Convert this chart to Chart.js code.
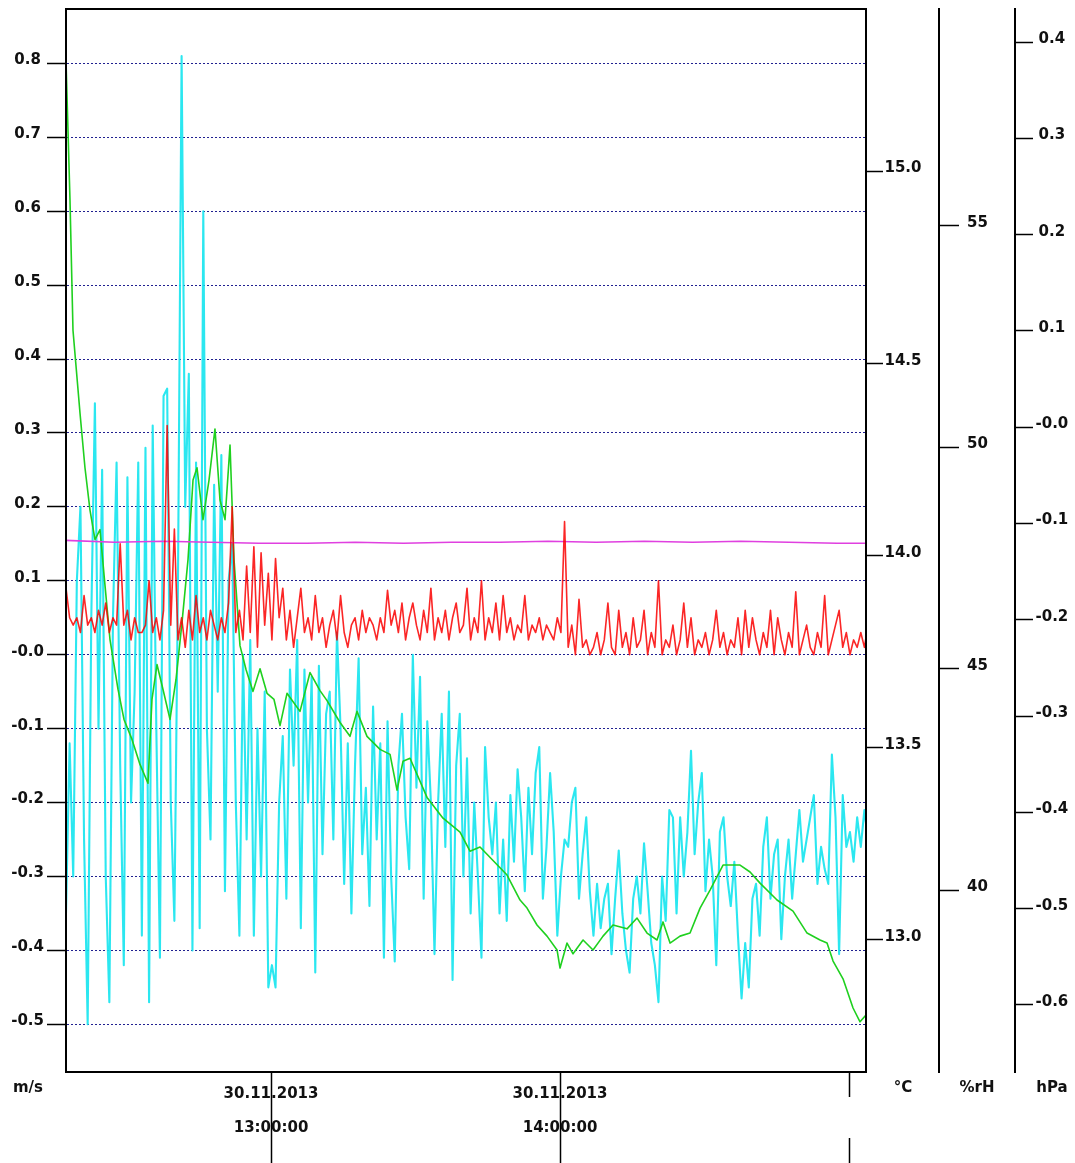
<!DOCTYPE html>
<html>
<head>
<meta charset="utf-8">
<title>Messwerte 30.11.2013</title>
<script src="https://cdn.jsdelivr.net/npm/chart.js@4.4.0/dist/chart.umd.min.js"></script>
<style>
  html, body { margin: 0; padding: 0; background: #fff; }
  canvas { display: block; }
</style>
</head>
<body>
<canvas id="chart" width="1075" height="1163"></canvas>
<script>
// time axis: minutes after 12:00 on 30.11.2013
const START_MIN = 17.44;
const END_MIN = 183.52;
const SAMPLE_MIN = 0.75;          // logger interval for the two wind channels

const timeTicks = [60, 120, 180];
const timeTickLabels = [['30.11.2013', '13:00:00'], ['30.11.2013', '14:00:00'], ''];

const msTicks = [0.8, 0.7, 0.6, 0.5, 0.4, 0.3, 0.2, 0.1, 0.0, -0.1, -0.2, -0.3, -0.4, -0.5];
const msTickLabels = ['0.8', '0.7', '0.6', '0.5', '0.4', '0.3', '0.2', '0.1', '-0.0', '-0.1', '-0.2', '-0.3', '-0.4', '-0.5'];
const degTicks = [15.0, 14.5, 14.0, 13.5, 13.0];
const degTickLabels = ['15.0', '14.5', '14.0', '13.5', '13.0'];
const rhTicks = [55, 50, 45, 40];
const rhTickLabels = ['55', '50', '45', '40'];
const hpaTicks = [0.4, 0.3, 0.2, 0.1, 0.0, -0.1, -0.2, -0.3, -0.4, -0.5, -0.6];
const hpaTickLabels = ['0.4', '0.3', '0.2', '0.1', '-0.0', '-0.1', '-0.2', '-0.3', '-0.4', '-0.5', '-0.6'];

// wind, m/s (cyan)
const windMs = [
  -0.35, -0.12, -0.30, 0.10, 0.20, -0.25, -0.50, 0.05, 0.34, -0.10,
  0.25, -0.30, -0.47, 0.05, 0.26, -0.15, -0.42, 0.24, -0.20, -0.05,
  0.26, -0.38, 0.28, -0.47, 0.31, -0.10, -0.41, 0.35, 0.36, -0.20,
  -0.36, 0.10, 0.81, 0.20, 0.38, -0.40, 0.26, -0.37, 0.60, -0.10,
  -0.25, 0.23, -0.05, 0.27, -0.32, 0.10, 0.15, -0.20, -0.38, 0.00,
  -0.25, 0.02, -0.38, -0.10, -0.30, -0.05, -0.45,
  -0.42, -0.45, -0.20, -0.11, -0.33, -0.02, -0.15, 0.02, -0.37, -0.02,
  -0.20, -0.03, -0.43, -0.015, -0.27, -0.08, -0.05, -0.25, 0.03, -0.10,
  -0.31, -0.12, -0.35, -0.15, -0.005, -0.27, -0.18, -0.34, -0.07, -0.25,
  -0.12, -0.41, -0.09, -0.30, -0.415, -0.15, -0.08, -0.22, -0.29, 0.00,
  -0.18, -0.03, -0.33, -0.09, -0.20, -0.405, -0.20, -0.08, -0.26, -0.05,
  -0.44, -0.15, -0.08, -0.30, -0.14, -0.35,
  -0.20, -0.30, -0.41, -0.125, -0.22, -0.27, -0.20, -0.35, -0.25, -0.36,
  -0.19, -0.28, -0.155, -0.22, -0.32, -0.18, -0.27, -0.16, -0.125, -0.33,
  -0.26, -0.16, -0.24, -0.38, -0.30, -0.25, -0.26, -0.20, -0.18, -0.33,
  -0.27, -0.22, -0.32, -0.38, -0.31, -0.37, -0.33, -0.31, -0.405, -0.33,
  -0.265, -0.35, -0.40, -0.43, -0.33, -0.30, -0.35, -0.255, -0.32, -0.39,
  -0.42, -0.47, -0.30, -0.36, -0.21,
  -0.22, -0.35, -0.22, -0.30, -0.24, -0.13, -0.27, -0.20, -0.16, -0.32,
  -0.25, -0.30, -0.42, -0.24, -0.22, -0.30, -0.34, -0.28, -0.38, -0.465,
  -0.39, -0.45, -0.33, -0.31, -0.38, -0.26, -0.22, -0.33, -0.27, -0.25,
  -0.385, -0.30, -0.25, -0.33, -0.27, -0.21, -0.28, -0.25, -0.22, -0.19,
  -0.31, -0.26, -0.29, -0.31, -0.135, -0.22, -0.405, -0.19, -0.26, -0.24,
  -0.28, -0.22, -0.26, -0.21, -0.25
];

// air flow, m/s (red)
const flowMs = [
  0.09, 0.05, 0.04, 0.05, 0.03, 0.08, 0.04, 0.05, 0.03, 0.06,
  0.04, 0.07, 0.03, 0.05, 0.04, 0.15, 0.04, 0.06, 0.02, 0.05,
  0.03, 0.03, 0.04, 0.10, 0.03, 0.05, 0.02, 0.06, 0.31, 0.04,
  0.17, 0.02, 0.05, 0.01, 0.06, 0.02, 0.08, 0.03, 0.05, 0.02,
  0.06, 0.04, 0.02, 0.05, 0.03, 0.07, 0.20, 0.03, 0.06, 0.02,
  0.12, 0.03, 0.146, 0.01, 0.138, 0.04, 0.11, 0.02, 0.13, 0.05,
  0.09, 0.02, 0.06, 0.01, 0.05, 0.09, 0.03, 0.05, 0.02, 0.08,
  0.03, 0.05, 0.01, 0.04, 0.06, 0.02, 0.08, 0.03, 0.01, 0.04,
  0.05, 0.02, 0.06, 0.03, 0.05, 0.04, 0.02, 0.05, 0.03, 0.087,
  0.04, 0.06, 0.03, 0.07, 0.02, 0.05, 0.07, 0.04, 0.02, 0.06,
  0.03, 0.09, 0.02, 0.05, 0.03, 0.06, 0.02, 0.05, 0.07, 0.03,
  0.04, 0.09, 0.02, 0.05, 0.03, 0.10, 0.02, 0.05, 0.03, 0.07,
  0.02, 0.08, 0.03, 0.05, 0.02, 0.04, 0.03, 0.08, 0.02, 0.04,
  0.03, 0.05, 0.02, 0.04, 0.03, 0.02, 0.05, 0.03, 0.18, 0.01,
  0.04, 0.00, 0.075, 0.01, 0.02, 0.00, 0.01, 0.03, 0.00, 0.02,
  0.07, 0.01, 0.00, 0.06, 0.01, 0.03, 0.00, 0.05, 0.01, 0.02,
  0.06, 0.00, 0.03, 0.01, 0.10, 0.00, 0.02, 0.01, 0.04, 0.00,
  0.02, 0.07, 0.01, 0.05, 0.00, 0.02, 0.01, 0.03, 0.00, 0.02,
  0.06, 0.01, 0.03, 0.00, 0.02, 0.01, 0.05, 0.00, 0.06, 0.01,
  0.05, 0.02, 0.00, 0.03, 0.01, 0.06, 0.00, 0.05, 0.02, 0.00,
  0.03, 0.01, 0.085, 0.00, 0.02, 0.04, 0.01, 0.00, 0.03, 0.01,
  0.08, 0.00, 0.02, 0.04, 0.06, 0.01, 0.03, 0.00, 0.02, 0.01,
  0.03, 0.01, 0.04
];

// temperature, °C (green)
const tempMin = [
  17.44, 18.27, 18.89, 20.35, 21.38, 22.42, 23.46, 24.50, 25.33, 26.57,
  28.24, 29.48, 31.14, 32.80, 34.46, 35.29, 36.33, 37.58, 39.03, 40.28,
  41.52, 42.77, 43.81, 44.64, 45.88, 47.13, 48.37, 49.41, 50.45, 51.49,
  52.32, 53.56, 54.81, 56.26, 57.72, 59.17, 60.62, 61.87, 63.32, 66.02,
  68.10, 70.17, 71.63, 74.33, 76.40, 77.85, 79.93, 82.63, 84.71, 86.16,
  87.40, 88.86, 92.39, 95.71, 99.24, 101.31, 103.39, 104.84, 109.00, 111.70,
  113.15, 115.22, 117.30, 119.38, 120.00, 121.45, 122.70, 124.78, 126.85, 128.93,
  131.00, 133.91, 135.99, 138.06, 140.14, 141.38, 142.84, 144.91, 146.99, 149.07,
  151.14, 153.84, 157.37, 159.45, 161.52, 165.05, 168.37, 171.28, 173.98, 175.43,
  176.68, 178.75, 180.83, 182.28, 183.52
];
const tempC = [
  15.288, 14.925, 14.587, 14.371, 14.229, 14.119, 14.042, 14.068, 13.951, 13.782,
  13.652, 13.574, 13.522, 13.457, 13.408, 13.626, 13.717, 13.652, 13.574, 13.678,
  13.826, 13.990, 14.197, 14.229, 14.094, 14.197, 14.330, 14.145, 14.094, 14.288,
  13.990, 13.766, 13.704, 13.647, 13.706, 13.642, 13.626, 13.558, 13.642, 13.595,
  13.696, 13.649, 13.623, 13.566, 13.530, 13.595, 13.530, 13.496, 13.483, 13.390,
  13.465, 13.473, 13.371, 13.317, 13.281, 13.231, 13.242, 13.223, 13.169, 13.104,
  13.083, 13.039, 13.010, 12.974, 12.927, 12.992, 12.964, 13.000, 12.974, 13.010,
  13.039, 13.029, 13.057, 13.018, 13.000, 13.047, 12.992, 13.010, 13.018, 13.083,
  13.130, 13.195, 13.195, 13.177, 13.148, 13.104, 13.075, 13.018, 13.000, 12.992,
  12.945, 12.899, 12.823, 12.787, 12.805
];

// differential pressure, hPa (magenta)
const pressMin = [17.44, 27.5, 37.5, 47.5, 57.5, 67.5, 77.5, 87.5, 97.5, 107.5, 117.5, 127.5, 137.5, 147.5, 157.5, 167.5, 177.5, 183.52];
const pressHpa = [-0.1175, -0.1195, -0.1185, -0.1195, -0.1205, -0.1205, -0.1195, -0.1205, -0.1195, -0.1195, -0.1185, -0.1195, -0.1185, -0.1195, -0.1185, -0.1195, -0.1205, -0.1205];

const TICK_FONT = { family: 'DejaVu Sans', weight: 'bold', size: 15 };
const INK = '#111';

function sampled(values) {
  return values.map((v, i) => ({ x: START_MIN + i * SAMPLE_MIN, y: v }));
}
function paired(xs, ys) {
  return xs.map((x, i) => ({ x: x, y: ys[i] }));
}
function fixedTicks(values) {
  return function (scale) { scale.ticks = values.map(v => ({ value: v })); };
}
function fixedWidth(w) {
  return function (scale) {
    scale.width = w;
    scale.paddingTop = 0;
    scale.paddingBottom = 0;
  };
}
function valueAxis(position, weight, min, max, values, labels, width, tickLength, padding) {
  return {
    type: 'linear',
    position: position,
    weight: weight,
    min: min,
    max: max,
    bounds: 'data',
    afterBuildTicks: fixedTicks(values),
    afterFit: fixedWidth(width),
    ticks: {
      autoSkip: false,
      crossAlign: 'center',
      padding: padding,
      labelOffset: -3,
      color: INK,
      font: TICK_FONT,
      callback: (v, i) => labels[i]
    },
    grid: {
      drawOnChartArea: false,
      tickLength: tickLength,
      tickColor: '#000',
      tickWidth: 1.5
    },
    border: { display: true, color: '#000', width: 2 }
  };
}

const axisUnits = [
  { id: 'ms', text: 'm/s', dx: 28 },
  { id: 'degC', text: '°C', dx: 37 },
  { id: 'rh', text: '%rH', dx: 38 },
  { id: 'hpa', text: 'hPa', dx: 37 }
];

// box round the plot area plus the unit names under each axis
const framePlugin = {
  id: 'frame',
  afterDraw(chart) {
    const { ctx, chartArea: a, scales } = chart;
    ctx.save();
    ctx.strokeStyle = '#000';
    ctx.lineWidth = 2;
    ctx.strokeRect(a.left, a.top, a.right - a.left, a.bottom - a.top);
    ctx.fillStyle = INK;
    ctx.font = 'bold 15px "DejaVu Sans"';
    ctx.textAlign = 'center';
    ctx.textBaseline = 'alphabetic';
    axisUnits.forEach(u => {
      ctx.fillText(u.text, scales[u.id].left + u.dx, a.bottom + 20);
    });
    ctx.restore();
  }
};

const msAxis = valueAxis('left', 0, -0.5645, 0.8735, msTicks, msTickLabels, 66, 19, 3);
msAxis.grid = { color: '#202090', lineWidth: 1, tickLength: 19, tickColor: '#000', tickWidth: 1.5 };
msAxis.border = { display: true, color: '#000', width: 2, dash: [2, 2] };

new Chart(document.getElementById('chart'), {
  type: 'line',
  data: {
    datasets: [
      { label: 'flow', data: sampled(flowMs), yAxisID: 'ms', borderColor: 'rgba(250,0,0,0.85)', borderWidth: 1.6 },
      { label: 'pressure', data: paired(pressMin, pressHpa), yAxisID: 'hpa', borderColor: '#e040e0', borderWidth: 1.6 },
      { label: 'temperature', data: paired(tempMin, tempC), yAxisID: 'degC', borderColor: '#1fd01f', borderWidth: 1.6 },
      { label: 'wind', data: sampled(windMs), yAxisID: 'ms', borderColor: 'rgba(20,228,238,0.9)', borderWidth: 2.1 }
    ]
  },
  options: {
    responsive: false,
    animation: false,
    devicePixelRatio: 1,
    layout: { padding: { top: 9, left: 0, right: 0, bottom: 0 } },
    elements: { point: { radius: 0 }, line: { tension: 0, borderJoinStyle: 'round' } },
    plugins: { legend: { display: false }, tooltip: { enabled: false } },
    scales: {
      x: {
        type: 'linear',
        position: 'bottom',
        min: START_MIN,
        max: END_MIN,
        bounds: 'data',
        afterBuildTicks: fixedTicks(timeTicks),
        afterFit: s => { s.height = 91; s.paddingLeft = 0; s.paddingRight = 0; },
        ticks: {
          autoSkip: false,
          maxRotation: 0,
          padding: -86,
          color: INK,
          font: Object.assign({}, TICK_FONT, { lineHeight: 2.27 }),
          callback: (v, i) => timeTickLabels[i]
        },
        grid: {
          drawOnChartArea: false,
          tickLength: 91,
          tickColor: '#000',
          tickWidth: 1.5,
          tickBorderDash: ctx => (ctx.index === 2 ? [24, 41, 100] : [])
        },
        border: { display: true, color: '#000', width: 2 }
      },
      ms: msAxis,
      degC: valueAxis('right', 0, 12.6564, 15.423, degTicks, degTickLabels, 73, 17, 1.5),
      rh: valueAxis('right', 1, 35.889, 59.90, rhTicks, rhTickLabels, 76, 20, 8),
      hpa: valueAxis('right', 2, -0.6696, 0.4343, hpaTicks, hpaTickLabels, 60, 18, 2.5)
    }
  },
  plugins: [framePlugin]
});
</script>
</body>
</html>
